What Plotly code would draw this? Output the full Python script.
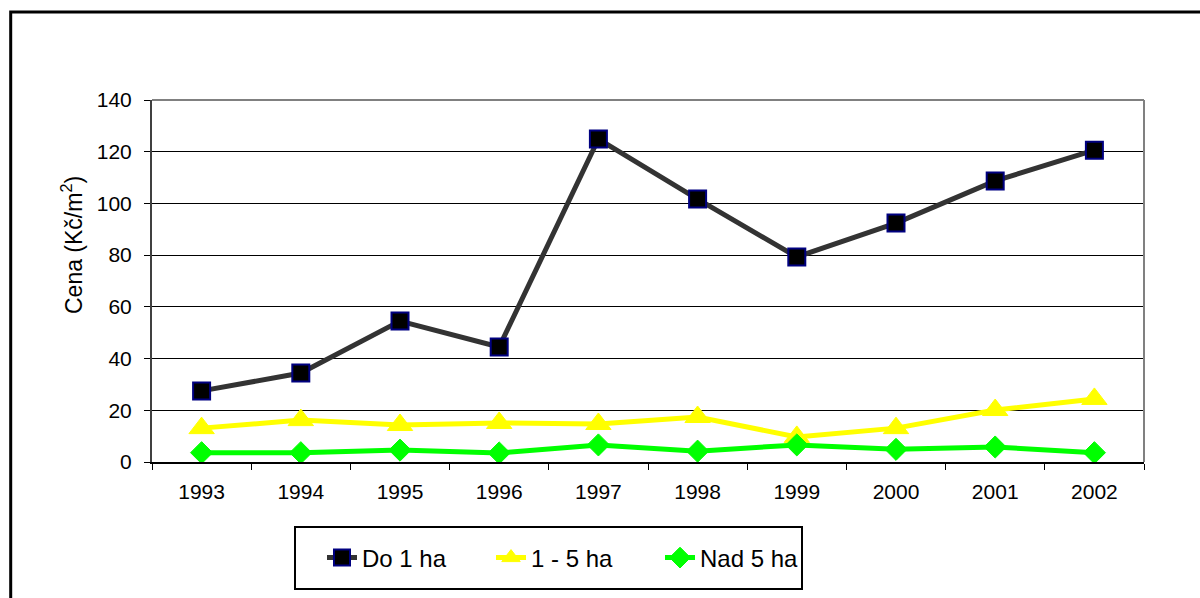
import plotly.graph_objects as go

years = ["1993", "1994", "1995", "1996", "1997", "1998", "1999", "2000", "2001", "2002"]
do_1_ha = [27.5, 34.4, 54.5, 44.5, 124.9, 101.7, 79.3, 92.4, 108.7, 120.6]
ha_1_5 = [13.1, 16.2, 14.3, 15.1, 14.7, 17.4, 9.7, 13.1, 20.1, 24.4]
nad_5_ha = [3.6, 3.6, 4.6, 3.5, 6.6, 4.2, 6.6, 4.9, 5.8, 3.6]
y_ticks = [0, 20, 40, 60, 80, 100, 120, 140]
series_names = ["Do 1 ha", "1 - 5 ha", "Nad 5 ha"]

W, H = 1200, 598
L, R, T, B = 152, 1144, 100, 462


def px(x):
    return (x - L) / (R - L)


def py(y):
    return (B - y) / (B - T)


FONT = "Liberation Sans, Arial, sans-serif"

fig = go.Figure()
fig.add_trace(go.Scatter(
    x=years, y=do_1_ha, name=series_names[0], mode="lines+markers",
    line=dict(color="#333333", width=5),
    marker=dict(symbol="square", size=17, color="#000000",
                line=dict(color="#000080", width=2)),
))
fig.add_trace(go.Scatter(
    x=years, y=ha_1_5, name=series_names[1], mode="lines+markers",
    line=dict(color="#FFFF00", width=5),
    marker=dict(symbol="triangle-up", size=22, color="#FFFF00",
                line=dict(color="#FFFF00", width=1)),
))
fig.add_trace(go.Scatter(
    x=years, y=nad_5_ha, name=series_names[2], mode="lines+markers",
    line=dict(color="#00FF00", width=5),
    marker=dict(symbol="diamond", size=17, color="#00FF00",
                line=dict(color="#00FF00", width=1)),
))

shapes = [
    # outer frame
    dict(type="rect", xref="paper", yref="paper",
         x0=px(10.7), x1=px(1215), y0=py(12), y1=py(620),
         line=dict(color="#000000", width=3), fillcolor="rgba(0,0,0,0)", layer="above"),
    # plot area top & right border
    dict(type="line", xref="paper", yref="paper", x0=0, x1=1, y0=1, y1=1,
         line=dict(color="#808080", width=2), layer="above"),
    dict(type="line", xref="paper", yref="paper", x0=1, x1=1, y0=0, y1=1,
         line=dict(color="#808080", width=2), layer="above"),
    # legend box
    dict(type="rect", xref="paper", yref="paper",
         x0=px(295), x1=px(802), y0=py(589), y1=py(527),
         line=dict(color="#000000", width=2), fillcolor="rgba(0,0,0,0)", layer="above"),
]

fig.update_layout(
    width=W, height=H,
    margin=dict(l=L, r=W - R, t=T, b=H - B, pad=0),
    paper_bgcolor="#FFFFFF", plot_bgcolor="#FFFFFF",
    font=dict(family=FONT, size=21, color="#000000"),
    showlegend=True,
    legend=dict(
        orientation="h", x=px(322), y=py(558), xanchor="left", yanchor="middle",
        font=dict(family=FONT, size=24, color="#000000"),
        bgcolor="rgba(0,0,0,0)", borderwidth=0,
        entrywidth=124, entrywidthmode="pixels",
    ),
    shapes=shapes,
    annotations=[dict(
        text="Cena (Kč/m<sup>2</sup>)", xref="paper", yref="paper",
        x=px(72), y=py(245), showarrow=False, textangle=-90,
        font=dict(family=FONT, size=23, color="#000000"),
        xanchor="center", yanchor="middle",
    )],
)

fig.update_xaxes(
    type="category", range=[-0.5, 9.5],
    showline=True, linecolor="#000000", linewidth=2,
    ticks="outside", tickson="boundaries", ticklen=6, tickcolor="#000000", tickwidth=1,
    showgrid=False, zeroline=False, ticklabelstandoff=10,
    tickfont=dict(family=FONT, size=21, color="#000000"),
)
fig.update_yaxes(
    range=[0, 140], tickvals=y_ticks, ticktext=[str(v) for v in y_ticks],
    showline=True, linecolor="#404040", linewidth=2,
    ticks="outside", ticklen=6, tickcolor="#000000", tickwidth=1,
    showgrid=True, gridcolor="#000000", gridwidth=1, zeroline=False,
    ticklabelstandoff=8,
    tickfont=dict(family=FONT, size=21, color="#000000"),
)

fig.write_html("out.html", config={"displayModeBar": False},
               post_script="document.body.style.margin='0';")
